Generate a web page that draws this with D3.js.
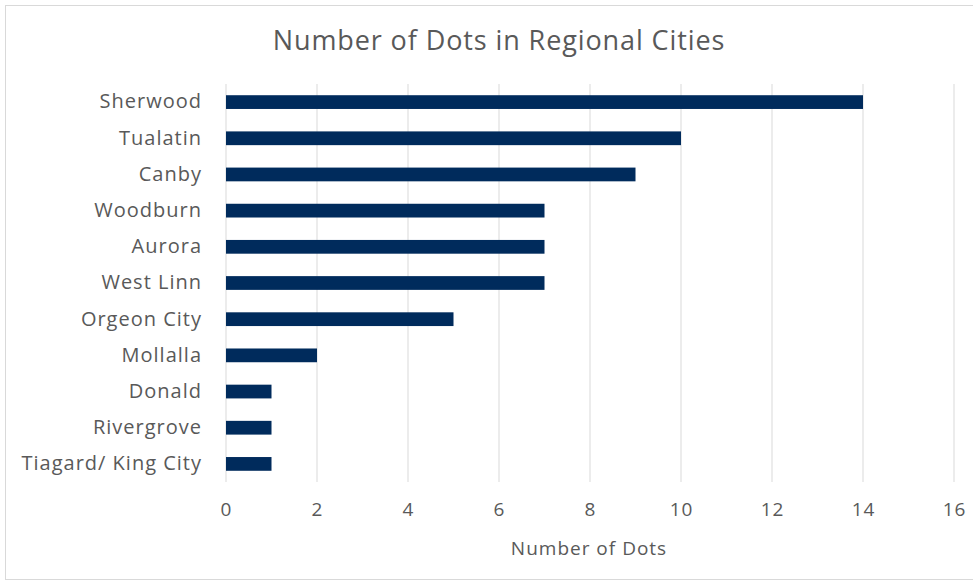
<!DOCTYPE html>
<html>
<head>
<meta charset="utf-8">
<script src="https://cdn.jsdelivr.net/npm/d3@7"></script>
<style>
  body { margin: 0; background: #fff; }
  text { font-family: "Open Sans", "Liberation Sans", sans-serif; fill: #595959; }
</style>
</head>
<body>
<script>
var cities = ["Sherwood", "Tualatin", "Canby", "Woodburn", "Aurora", "West Linn",
              "Orgeon City", "Mollalla", "Donald", "Rivergrove", "Tiagard/ King City"];
var dots = [14, 10, 9, 7, 7, 7, 5, 2, 1, 1, 1];
var xTicks = [0, 2, 4, 6, 8, 10, 12, 14, 16];

var width = 973, height = 582;
var margin = {top: 84, right: 19, bottom: 100, left: 226};

var svg = d3.select("body").append("svg")
    .attr("width", width)
    .attr("height", height);

// chart frame
svg.append("rect")
   .attr("x", 5.5).attr("y", 5.5)
   .attr("width", width + 10).attr("height", height - 8)
   .attr("fill", "none")
   .attr("stroke", "#d9d9d9");

var xScale = d3.scaleLinear()
    .domain([0, 16])
    .range([margin.left, width - margin.right]);

var yScale = d3.scaleBand()
    .domain(cities)
    .range([margin.top, height - margin.bottom])
    .paddingInner(0.62)
    .paddingOuter(0.31);

// gridlines
svg.append("g")
   .selectAll("line")
   .data(xTicks)
   .enter().append("line")
   .attr("x1", d => xScale(d)).attr("x2", d => xScale(d))
   .attr("y1", margin.top).attr("y2", height - margin.bottom)
   .attr("stroke", "#d9d9d9")
   .attr("stroke-width", 1);

// bars
svg.append("g")
   .selectAll("rect")
   .data(cities)
   .enter().append("rect")
   .attr("x", xScale(0))
   .attr("y", d => yScale(d))
   .attr("width", (d, i) => xScale(dots[i]) - xScale(0))
   .attr("height", yScale.bandwidth())
   .attr("fill", "#002b5c");

// x axis labels
var xAxis = svg.append("g")
   .attr("transform", `translate(0, ${height - margin.bottom})`)
   .call(d3.axisBottom(xScale).tickValues(xTicks).tickSize(0).tickPadding(21));
xAxis.select(".domain").remove();
xAxis.selectAll("text")
   .style("font-size", "19px").style("letter-spacing", "1px")
   .attr("fill", "#595959");

// y axis labels
var yAxis = svg.append("g")
   .attr("transform", `translate(${margin.left}, 0)`)
   .call(d3.axisLeft(yScale).tickSize(0).tickPadding(24));
yAxis.select(".domain").remove();
yAxis.selectAll("text")
   .style("font-size", "20px").style("letter-spacing", "1px")
   .attr("fill", "#595959");

// title
svg.append("text")
   .attr("x", 499)
   .attr("y", 50)
   .style("text-anchor", "middle")
   .style("font-size", "27px")
   .style("letter-spacing", "0.9px")
   .text("Number of Dots in Regional Cities");

// x label
svg.append("text")
   .attr("x", 589)
   .attr("y", 555)
   .style("text-anchor", "middle")
   .style("font-size", "19px")
   .style("letter-spacing", "1px")
   .text("Number of Dots");
</script>
</body>
</html>
